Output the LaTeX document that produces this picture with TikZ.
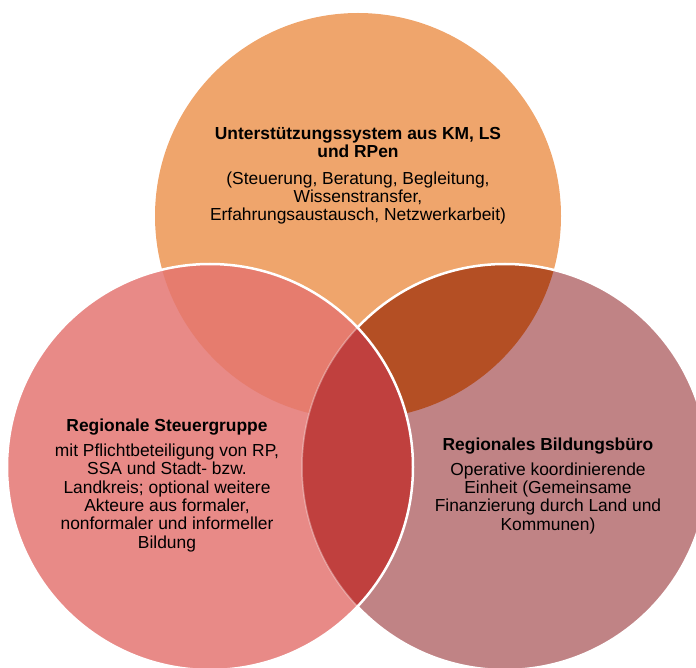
\documentclass[tikz,border=0pt]{standalone}
\usepackage{fontspec}
\setmainfont{Liberation Sans}
\definecolor{cTop}{HTML}{EFA56C}
\definecolor{cLeft}{HTML}{E88A87}
\definecolor{cRight}{HTML}{C08385}
\definecolor{cTL}{HTML}{E67C6E}
\definecolor{cTR}{HTML}{B44F24}
\definecolor{cLR}{HTML}{C0403E}
\tikzset{
  vtext/.style={align=center, inner sep=0pt, anchor=base, text=black,
    font=\fontsize{17.4}{18.3}\selectfont},
  rim/.style={draw=white, line width=2.5pt},
  faintrim/.style={draw=white, draw opacity=0.35, line width=1.5pt},
}
\begin{document}
\begin{tikzpicture}[x=1pt, y=-1pt]
\useasboundingbox (0,0) rectangle (696,668);
\clip (0,0) rectangle (696,668);
\def\rad{203}
\coordinate (T) at (358,216);
\coordinate (L) at (210,467);
\coordinate (R) at (505,467);
% top circle
\fill[cTop] (T) circle[radius=\rad];
% right circle
\fill[cRight] (R) circle[radius=\rad];
\begin{scope}
  \clip (R) circle[radius=\rad];
  \fill[cTR] (T) circle[radius=\rad];
\end{scope}
\path[rim] (R) circle[radius=\rad];
% left circle
\fill[cLeft] (L) circle[radius=\rad];
\begin{scope}
  \clip (L) circle[radius=\rad];
  \fill[cTL] (T) circle[radius=\rad];
  \fill[cLR] (R) circle[radius=\rad];
  \path[faintrim] (R) circle[radius=\rad];
\end{scope}
\path[rim] (L) circle[radius=\rad];
% texts (anchor = baseline of the last line)
\node[vtext] (ttop) at (358,221) {\textbf{Unterstützungssystem aus KM, LS}\\\textbf{und RPen}\\[8.7pt]
(Steuerung, Beratung, Begleitung,\\Wissenstransfer,\\Erfahrungsaustausch, Netzwerkarbeit)};
\node[vtext] (tleft) at (167,548) {\textbf{Regionale Steuergruppe}\\[6.7pt]
mit Pflichtbeteiligung von RP,\\SSA und Stadt- bzw.\\Landkreis; optional weitere\\Akteure aus formaler,\\nonformaler und informeller\\Bildung};
\node[vtext] (tright) at (548,530) {\textbf{Regionales Bildungsbüro}\\[6.7pt]
Operative koordinierende\\Einheit (Gemeinsame\\Finanzierung durch Land und\\Kommunen)};
\end{tikzpicture}
\end{document}
